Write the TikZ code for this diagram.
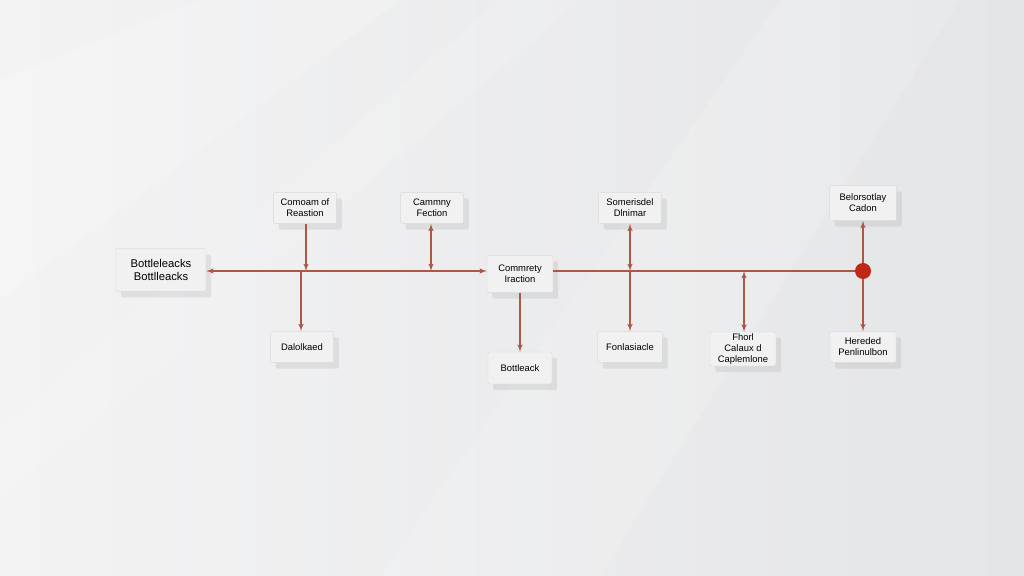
\documentclass[tikz,border=0pt]{standalone}
\usepackage{fontspec}
\setmainfont{Liberation Sans}
\usetikzlibrary{shapes,arrows,shadows}
\definecolor{wallgray}{RGB}{228,229,231}
\definecolor{walllight}{RGB}{243,243,244}
\definecolor{boxgray}{RGB}{241,241,242}
\definecolor{linkbrown}{RGB}{170,88,72}
\definecolor{dotred}{RGB}{192,40,22}
\tikzstyle{block} = [rectangle, draw=gray!30, line width=0.3pt, fill=boxgray,
    text centered, align=center, rounded corners=1.5pt, inner sep=1pt,
    font=\fontsize{6.7}{7.7}\selectfont, minimum width=1.58cm, minimum height=0.78cm,
    drop shadow={shadow xshift=0.13cm, shadow yshift=-0.15cm, opacity=0.2, fill=gray!80}]
\tikzstyle{line} = [draw, linkbrown, line width=0.8pt, -latex']
\tikzstyle{both} = [draw, linkbrown, line width=0.8pt, latex'-latex']

\begin{document}
\begin{tikzpicture}[x=0.025cm, y=-0.025cm]
		% wall
		\shade[shading angle=135, left color=walllight, right color=wallgray] (0,0) rectangle (1024,576);
		\fill[white, opacity=0.18] (0,80) -- (200,0) -- (400,0) -- (0,300) -- cycle;
		\fill[white, opacity=0.15] (380,576) -- (780,0) -- (960,0) -- (600,576) -- cycle;
		\fill[white, opacity=0.12] (0,430) -- (500,0) -- (580,0) -- (0,500) -- cycle;
		\useasboundingbox (0,0) rectangle (1024,576);

		\node [block, minimum width=2.25cm, minimum height=1.07cm, font=\fontsize{8}{9.5}\selectfont] (bottle) at (161,270) {Bottleleacks\\Bottlleacks};
		\node [block] (comoam) at (305,208) {Comoam of\\Reastion};
		\node [block] (cammny) at (432,208) {Cammny\\Fection};
		\node [block, minimum width=1.65cm, minimum height=0.93cm] (commrety) at (520,274) {Commrety\\Iraction};
		\node [block] (someris) at (630,208) {Somerisdel\\Dlnimar};
		\node [block, minimum width=1.68cm, minimum height=0.88cm] (belors) at (863,203) {Belorsotlay\\Cadon};
		\node [block] (dalolk) at (302,347) {Dalolkaed};
		\node [block, minimum width=1.6cm, minimum height=0.8cm] (bottleack) at (520,368) {Bottleack};
		\node [block, minimum width=1.62cm] (fonlas) at (630,347) {Fonlasiacle};
		\node [block, minimum width=1.65cm, minimum height=0.85cm] (fhorl) at (743,349) {Fhorl\\Calaux d\\Caplemlone};
		\node [block, minimum width=1.65cm] (hereded) at (863,347) {Hereded\\Penlinulbon};
		\node [circle, fill=dotred, inner sep=0pt, minimum size=0.4cm] (hub) at (863,271) {};

		% junctions on the main line
		\coordinate (j1) at (306,271);
		\coordinate (j2) at (301,271);
		\coordinate (j3) at (431,271);
		\coordinate (j4) at (630,271);
		\coordinate (j5) at (744,271);

		\path [both] (bottle.east |- 0,271) -- (commrety.west |- 0,271);
		\path [draw, linkbrown, line width=0.8pt] (commrety.east |- 0,271) -- (hub);
		\path [line] (comoam.south -| j1) -- (j1);
		\path [line] (j2) -- (dalolk.north -| j2);
		\path [both] (cammny.south -| j3) -- (j3);
		\path [line] (commrety) -- (bottleack);
		\path [both] (someris.south -| j4) -- (j4);
		\path [line] (j4) -- (fonlas.north -| j4);
		\path [both] (j5) -- (fhorl.north -| j5);
		\path [line] (hub) -- (belors);
		\path [line] (hub) -- (hereded);
	\end{tikzpicture}
\end{document}
